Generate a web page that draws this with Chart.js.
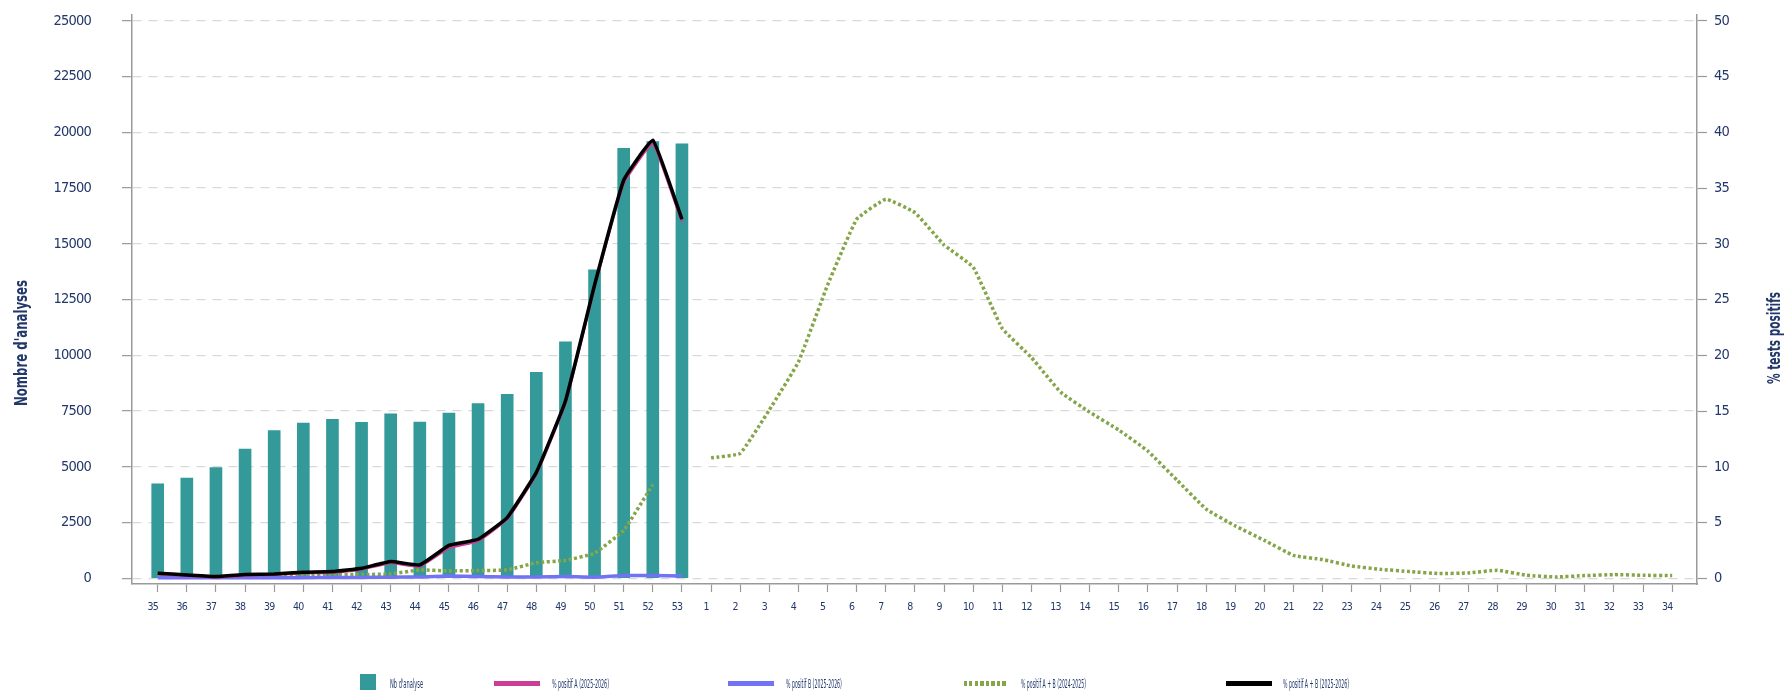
<!DOCTYPE html>
<html>
<head>
<meta charset="utf-8">
<script src="https://cdn.jsdelivr.net/npm/chart.js@4.4.1/dist/chart.umd.min.js"></script>
<style>
  html, body { margin: 0; padding: 0; background: #ffffff; overflow: hidden; }
  #wrap { position: relative; width: 1787px; height: 695px; }
  #c { position: absolute; left: 0; top: 0; }
  .lg { position: absolute; }
  .lgText { position: absolute; white-space: nowrap; font-size: 11.5px; line-height: 12px; color: #22386b;
            transform-origin: 0 50%; }
</style>
</head>
<body>
<div id="wrap">
  <canvas id="c" width="1787" height="695"></canvas>
  <div id="legend"></div>
</div>
<script>
// ---------------- DATA ----------------
const weekLabels = ['35','36','37','38','39','40','41','42','43','44','45','46','47','48','49','50','51','52','53',
  '1','2','3','4','5','6','7','8','9','10','11','12','13','14','15','16','17','18','19','20',
  '21','22','23','24','25','26','27','28','29','30','31','32','33','34'];

const nbAnalyses = [4240, 4490, 4960, 5790, 6620, 6960, 7130, 6990, 7370, 7010, 7410, 7840, 8250, 9240, 10600, 13830, 19280, 19580, 19480,
  null, null, null, null, null, null, null, null, null, null, null, null, null, null, null, null, null,
  null, null, null, null, null, null, null, null, null, null, null, null, null, null, null, null, null];

const posA2526 = [0.40, 0.25, 0.10, 0.28, 0.34, 0.49, 0.52, 0.82, 1.40, 1.08, 2.75, 3.35, 5.33, 9.38, 15.75, 26.20, 35.45, 39.05, 32.00,
  null, null, null, null, null, null, null, null, null, null, null, null, null, null, null, null, null,
  null, null, null, null, null, null, null, null, null, null, null, null, null, null, null, null, null];

const posB2526 = [0.05, 0.05, 0.05, 0.05, 0.05, 0.05, 0.08, 0.08, 0.10, 0.12, 0.20, 0.15, 0.12, 0.12, 0.15, 0.10, 0.25, 0.25, 0.20,
  null, null, null, null, null, null, null, null, null, null, null, null, null, null, null, null, null,
  null, null, null, null, null, null, null, null, null, null, null, null, null, null, null, null, null];

const posAB2425 = [0.15, 0.15, 0.15, 0.15, 0.20, 0.27, 0.33, 0.33, 0.39, 0.75, 0.66, 0.69, 0.75, 1.40, 1.60, 2.25, 4.30, 8.40, null,
  10.8, 11.2, 15.1, 19.4, 26.3, 32.2, 34.0, 32.8, 29.9, 27.9, 22.4, 19.8, 16.7, 14.9, 13.3, 11.4, 8.8,
  6.2, 4.7, 3.4, 2.05, 1.68, 1.1, 0.8, 0.6, 0.42, 0.48, 0.72, 0.27, 0.12, 0.24, 0.33, 0.27, 0.24];

const posAB2526 = [0.45, 0.30, 0.15, 0.33, 0.39, 0.54, 0.60, 0.90, 1.50, 1.20, 2.95, 3.50, 5.45, 9.50, 15.90, 26.30, 35.70, 39.30, 32.20,
  null, null, null, null, null, null, null, null, null, null, null, null, null, null, null, null, null,
  null, null, null, null, null, null, null, null, null, null, null, null, null, null, null, null, null];

const leftTicks = [0, 2500, 5000, 7500, 10000, 12500, 15000, 17500, 20000, 22500, 25000];
const rightTicks = [0, 5, 10, 15, 20, 25, 30, 35, 40, 45, 50];

const seriesNames = ["Nb d'analyse", '% positif A (2025-2026)', '% positif B (2025-2026)', '% positif A + B (2024-2025)', '% positif A + B (2025-2026)'];
const yLeftTitle = "Nombre d'analyses";
const yRightTitle = '% tests positifs';

// ---------------- STYLE ----------------
const FONT = "'Liberation Sans Narrow', 'DejaVu Sans Condensed', 'Liberation Sans', Arial, sans-serif";
const NAVY = '#22386b';
const AXIS = '#9a9a9a';
const GRID = '#d9d9d9';
const COLORS = { bar: '#339a99', a: '#cc3d94', b: '#7272f4', ab2425: '#84a548', ab2526: '#000000' };

Chart.defaults.font.family = FONT;
Chart.defaults.color = NAVY;

// tighter text (condensed look) for the axis labels, and the two rotated axis titles
const textStyle = {
  id: 'textStyle',
  beforeDraw(chart) { chart.ctx.letterSpacing = '-0.8px'; },
  afterDraw(chart) {
    const ctx = chart.ctx;
    ctx.letterSpacing = '0px';
    ctx.save();
    ctx.fillStyle = NAVY;
    ctx.font = 'bold 17px ' + FONT;
    ctx.textAlign = 'center';
    ctx.textBaseline = 'middle';
    [[yLeftTitle, 22.5, 343, 126], [yRightTitle, 1776, 338, 92]].forEach(([t, x, y, len]) => {
      const w = ctx.measureText(t).width;
      ctx.save();
      ctx.translate(x, y);
      ctx.rotate(-Math.PI / 2);
      ctx.scale(len / w, 1);
      ctx.fillText(t, 0, 0);
      ctx.restore();
    });
    ctx.restore();
  }
};

const indexLabels = weekLabels.map((_, i) => i);

const chart = new Chart(document.getElementById('c'), {
  data: {
    labels: indexLabels,
    datasets: [
      { type: 'bar', label: seriesNames[0], data: nbAnalyses, yAxisID: 'y', backgroundColor: COLORS.bar,
        barThickness: 12, order: 5 },
      { type: 'line', label: seriesNames[1], data: posA2526, yAxisID: 'y1', borderColor: COLORS.a,
        borderWidth: 3, pointRadius: 0, tension: 0.1, order: 2 },
      { type: 'line', label: seriesNames[2], data: posB2526, yAxisID: 'y1', borderColor: COLORS.b,
        borderWidth: 3.5, pointRadius: 0, tension: 0.1, order: 3 },
      { type: 'line', label: seriesNames[3], data: posAB2425, yAxisID: 'y1', borderColor: COLORS.ab2425,
        borderWidth: 3.5, borderDash: [3, 2.5], pointRadius: 0, tension: 0.1, order: 4 },
      { type: 'line', label: seriesNames[4], data: posAB2526, yAxisID: 'y1', borderColor: COLORS.ab2526,
        borderWidth: 3.5, pointRadius: 0, tension: 0.1, order: 1 }
    ]
  },
  options: {
    responsive: false,
    animation: false,
    devicePixelRatio: 1,
    layout: { padding: { top: 15, left: 0, right: 0, bottom: 0 } },
    plugins: { legend: { display: false }, tooltip: { enabled: false }, title: { display: false } },
    scales: {
      x: {
        type: 'linear', position: 'bottom', offset: false,
        min: -0.8824, max: 52.853,
        afterBuildTicks: (axis) => { axis.ticks = indexLabels.map(v => ({ value: v })); },
        afterFit: (s) => { s.height = 111; s.paddingLeft = 0; s.paddingRight = 0; },
        ticks: { autoSkip: false, maxRotation: 0, minRotation: 0, padding: 9, labelOffset: -5,
                 font: { size: 10.5 }, color: NAVY, callback: (v) => weekLabels[v] },
        grid: { offset: false, drawOnChartArea: false, drawTicks: true, tickLength: 8, tickColor: AXIS, tickWidth: 1.2 },
        border: { display: true, color: AXIS, width: 1.5 }
      },
      y: {
        type: 'linear', position: 'left',
        min: -256.1, max: 25260.5,
        afterBuildTicks: (axis) => { axis.ticks = leftTicks.map(v => ({ value: v })); },
        afterFit: (s) => { s.width = 132; s.paddingTop = 0; s.paddingBottom = 0; },
        ticks: { padding: 31, font: { size: 14.5 }, color: NAVY, callback: (v) => String(v) },
        grid: { color: GRID, lineWidth: 1.3, drawTicks: true, tickLength: 10, tickColor: AXIS, tickWidth: 1.2, tickBorderDash: [] },
        border: { display: true, color: AXIS, width: 1.5, dash: [9, 7] }
      },
      y1: {
        type: 'linear', position: 'right',
        min: -0.512, max: 50.52,
        afterBuildTicks: (axis) => { axis.ticks = rightTicks.map(v => ({ value: v })); },
        afterFit: (s) => { s.width = 90; s.paddingTop = 0; s.paddingBottom = 0; },
        ticks: { padding: 7, font: { size: 14.5 }, color: NAVY, callback: (v) => String(v) },
        grid: { drawOnChartArea: false, drawTicks: true, tickLength: 10, tickColor: AXIS, tickWidth: 1.2 },
        border: { display: true, color: AXIS, width: 1.5 }
      }
    }
  },
  plugins: [textStyle]
});

// ---------------- HTML legend built from the datasets ----------------
const legendLayout = [
  { sx: 360, sw: 16, tx: 390, tw: 33 },
  { sx: 494, sw: 46, tx: 552, tw: 57 },
  { sx: 728, sw: 46, tx: 786, tw: 56 },
  { sx: 964, sw: 42, tx: 1021, tw: 65 },
  { sx: 1226, sw: 46, tx: 1283, tw: 66 }
];
const legendEl = document.getElementById('legend');
chart.data.datasets.forEach((ds, i) => {
  const L = legendLayout[i];
  const sw = document.createElement('div');
  sw.className = 'lg';
  sw.style.left = L.sx + 'px';
  sw.style.width = L.sw + 'px';
  if (ds.type === 'bar') {
    sw.style.top = '674px'; sw.style.height = '16px'; sw.style.background = ds.backgroundColor;
  } else if (ds.borderDash) {
    sw.style.top = '681px'; sw.style.height = '5px';
    sw.style.background = 'repeating-linear-gradient(to right, ' + ds.borderColor + ' 0 3px, transparent 3px 5.5px)';
  } else {
    sw.style.top = '681px'; sw.style.height = '5px'; sw.style.background = ds.borderColor;
  }
  legendEl.appendChild(sw);
  const tx = document.createElement('span');
  tx.className = 'lgText';
  tx.style.fontFamily = FONT;
  tx.style.left = L.tx + 'px';
  tx.style.top = '678px';
  tx.textContent = ds.label;
  legendEl.appendChild(tx);
  const w = tx.getBoundingClientRect().width;
  if (w > 0) tx.style.transform = 'scaleX(' + (L.tw / w).toFixed(3) + ')';
});
</script>
</body>
</html>
